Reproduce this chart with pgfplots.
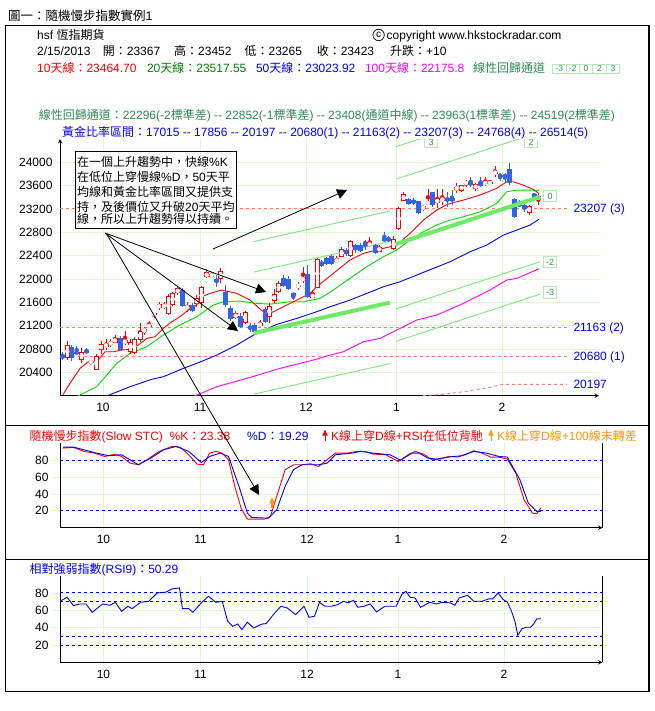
\documentclass[border=0pt]{standalone}
\usepackage{pgfplots}
\pgfplotsset{compat=1.18}
\usepackage{pgfplotstable}
\usetikzlibrary{arrows.meta}
\usepackage{fontspec}
\setmainfont{Liberation Sans}
\newfontfamily\cjk{Noto Sans CJK TC}

\definecolor{gridg}{RGB}{222,250,205}
\definecolor{candleblue}{RGB}{50,100,230}
\definecolor{maG}{RGB}{0,220,0}
\definecolor{chan}{RGB}{120,235,120}
\definecolor{thickg}{RGB}{110,235,100}
\definecolor{fibred}{RGB}{255,120,120}
\definecolor{seag}{RGB}{46,139,87}
\definecolor{darkg}{RGB}{0,128,0}
\definecolor{orng}{RGB}{255,150,0}
\definecolor{boxg}{RGB}{180,235,180}
\definecolor{magen}{RGB}{255,0,255}

\newcommand\F{\fontsize{12pt}{14pt}\selectfont}

% up (red, hollow) candles: x, body low, body high, low, high
\pgfplotstableread{
x bl bh lo hi
67.3 20645 20868 20611 20936
81.7 20611 20753 20559 20816
91 20568 20585 20551 20594
96 20439 20679 20439 20713
101 20782 20885 20713 20936
106 20839 20885 20782 20970
110.7 20885 20907 20833 20970
115 20907 20988 20902 21039
125 20897 20953 20868 21113
130 20753 20924 20713 20970
134.3 20726 20965 20713 21005
140 20953 21113 20924 21245
144.3 21096 21137 21039 21182
149 21182 21211 21159 21284
154 21381 21410 21334 21438
159 21497 21570 21468 21605
164 21514 21565 21485 21605
168.3 21393 21708 21382 21742
172.7 21553 21753 21536 21781
177.7 21753 21839 21725 21867
187.3 21480 21553 21438 21610
196.7 21570 21668 21524 21725
201.7 21582 21856 21497 21879
206.7 22028 22114 22011 22165
211.7 22039 22085 22016 22119
220.7 21994 22141 21925 22182
235.7 21334 21410 21313 21450
245 21250 21438 21222 21456
260 21199 21245 21177 21296
269.3 21353 21536 21239 21593
274 21627 21742 21582 21822
278.7 21781 21936 21759 21965
298.3 21867 21896 21810 21953
303 21970 22028 21936 22210
312.7 21668 21753 21668 21810
317.3 21850 22337 21839 22354
336.7 22296 22337 22268 22393
341.7 22381 22508 22371 22553
350.7 22393 22655 22381 22667
369.7 22558 22627 22542 22714
379.3 22467 22553 22462 22587
393.7 22513 22679 22496 22736
398.7 22851 23221 22839 23233
403.7 23341 23451 23336 23490
423.3 23194 23250 23165 23267
428 23284 23324 23267 23536
437.3 23296 23382 23210 23536
442.3 23341 23382 23267 23536
456.7 23524 23581 23468 23639
461.7 23512 23610 23495 23610
466 23627 23667 23571 23696
475.7 23536 23627 23512 23639
485.3 23627 23667 23593 23752
490 23627 23667 23627 23696
495 23810 23838 23752 23936
529 23136 23250 23096 23267
538.3 23367 23423 23265 23452
}\uptable

% down (blue, filled) candles
\pgfplotstableread{
x bl bh lo hi
62.7 20640 20696 20611 20753
71.7 20640 20839 20599 20868
76.7 20726 20753 20713 20851
86.7 20736 20782 20713 20816
120 20782 20993 20765 21022
182.7 21536 21810 21514 21839
192.3 21456 21553 21427 21587
216.7 21953 21994 21867 22068
225.7 21553 21781 21524 21896
230 21308 21497 21279 21536
240 21182 21365 21154 21410
250 21154 21182 21096 21239
254.5 21096 21211 21074 21245
265 21267 21479 21239 21524
283.3 21879 22021 21867 22068
288.7 21822 21994 21810 22051
293.3 21713 21753 21639 21753
307.7 21696 22079 21668 22239
321.7 22227 22296 22210 22325
326.7 22256 22354 22239 22381
331.7 22256 22393 22239 22410
346 22427 22496 22393 22530
355.3 22496 22575 22451 22604
360 22485 22587 22462 22621
365 22604 22627 22496 22667
375 22451 22587 22427 22604
384.3 22655 22696 22638 22810
388.7 22655 22696 22638 22736
408.7 23284 23365 23267 23387
413.5 23302 23353 23267 23387
418.3 23136 23336 23113 23336
432.7 23267 23495 23238 23495
447.3 23341 23382 23238 23495
452 23341 23382 23267 23524
470.7 23610 23667 23581 23752
480.7 23593 23667 23571 23742
500 23764 23781 23684 23810
505 23752 23781 23667 23810
509.3 23639 23879 23610 23993
514.3 23067 23365 23050 23382
519.3 23250 23296 23238 23353
524.3 23194 23267 23153 23296
534 23422 23451 23382 23478
}\downtable

\pgfplotsset{
  panel/.style={
    scale only axis,
    axis line style={-, black, line width=1pt},
    grid=major, major grid style={gridg, line width=0.8pt},
    tick style={gridg, line width=0.8pt}, major tick length=8pt, tick align=outside,
    ticklabel style={font=\F, black},
    scaled ticks=false,
    /pgf/number format/fixed,
    /pgf/number format/precision=0,
    /pgf/number format/assume math mode=true,
    /pgf/number format/set thousands separator={},
    clip mode=individual,
  },
  ebar/.style n args={2}{color=#1, only marks, mark=none, forget plot,
    error bars/.cd, y dir=both, y explicit, error mark=none,
    error bar style={color=#1, line width=#2}},
}

\begin{document}
\begin{tikzpicture}[x=1pt,y=1pt]
\path[use as bounding box] (0,0) rectangle (654,-711);
\fill[white] (0,0) rectangle (654,-711);

% ---------------- main price panel ----------------
\begin{axis}[panel,
  at={(60pt,-395.7pt)}, anchor=south west,
  width=539pt, height=256.7pt,
  xmin=60, xmax=599, ymin=20000, ymax=24400,
  axis x line=bottom, axis y line=left,
  xtick={103,200,306,396.5,502}, xticklabels={10,11,12,1,2},
  ytick={20400,20800,21200,21600,22000,22400,22800,23200,23600,24000},
]
% golden ratio levels
\addplot[fibred, line width=0.9pt, dash pattern=on 3pt off 3pt] coordinates {(60,23207) (567,23207)};
\addplot[fibred, line width=0.9pt, dash pattern=on 3pt off 3pt] coordinates {(60,21163) (567,21163)};
\addplot[fibred, line width=0.9pt, dash pattern=on 3pt off 3pt] coordinates {(60,20680) (567,20680)};
\addplot[fibred, line width=0.9pt, dash pattern=on 3pt off 3pt] coordinates {(423,20000) (443,20023) (463,20067) (490,20143) (502,20194) (567,20194)};
% regression channel A
\addplot[chan, line width=0.9pt] coordinates {(254,22643) (390,23165)};
\addplot[chan, line width=0.9pt] coordinates {(254,22120) (390,22642)};
\addplot[chan, line width=0.9pt] coordinates {(254,20028) (390,20550)};
% regression channel B
\addplot[chan, line width=0.9pt] coordinates {(396,24268) (540,25076)};
\addplot[chan, line width=0.9pt] coordinates {(396,23712) (540,24520)};
\addplot[chan, line width=0.9pt] coordinates {(396,21488) (540,22296)};
\addplot[chan, line width=0.9pt] coordinates {(396,20932) (540,21740)};
% moving averages
\addplot[magen, line width=0.9pt] coordinates {(193.3,19983) (216.7,20154) (246.7,20297) (280,20468) (313.3,20611) (330,20696) (343.3,20753) (363.3,20925) (380,20982) (396.7,21125) (416.7,21296) (436.7,21382) (463.3,21582) (490,21810) (506.7,21982) (516.7,22011) (539,22176)};
\addplot[blue, line width=0.9pt] coordinates {(105,19983) (130,20154) (151.7,20281) (163.3,20325) (183.3,20468) (196.7,20554) (216.7,20696) (236.7,20868) (255,21054) (276.7,21222) (296.7,21325) (316.7,21439) (330,21524) (350,21639) (383.3,21867) (400,21953) (416.7,22068) (433.3,22182) (450,22296) (470,22467) (486.7,22582) (503.3,22753) (516.7,22839) (530,22925) (539,23024)};
\addplot[maG, line width=0.9pt] coordinates {(76.7,19983) (96.7,20154) (116.7,20554) (130,20725) (146.7,20839) (163.3,21039) (180,21211) (196.7,21353) (213.3,21553) (223.3,21610) (240,21622) (256.7,21582) (270,21570) (290,21610) (303.3,21610) (320,21668) (333.3,21810) (350,22011) (366.7,22210) (383.3,22381) (396.7,22496) (410,22667) (423.3,22810) (436.7,22925) (450,23010) (463.3,23067) (480,23153) (496.7,23296) (506.7,23495) (516.7,23524) (530,23524) (539,23518)};
\addplot[red, line width=0.9pt] coordinates {(62.7,20011) (70,20211) (80,20468) (88.3,20581) (96.7,20581) (105,20753) (113.3,20753) (121.7,20782) (130,20794) (138.3,20868) (146.7,20982) (155,21010) (163.3,21154) (171.7,21267) (180,21353) (188.3,21468) (196.7,21553) (201.7,21696) (210,21754) (221.7,21810) (236.7,21754) (250,21639) (263.3,21439) (270,21411) (283.3,21524) (296.7,21639) (310,21754) (316.7,21867) (333.3,22096) (350,22325) (363.3,22439) (376.7,22496) (390,22553) (396.7,22582) (410,22782) (423.3,23010) (436.7,23182) (448,23284) (463.3,23353) (480,23439) (496.7,23554) (506.7,23667) (513.3,23667) (523.3,23610) (533.3,23536) (539,23465)};
% candles: wicks
\addplot[ebar={candleblue}{1pt}] table[x=x, y expr={(\thisrow{lo}+\thisrow{hi})/2}, y error expr={(\thisrow{hi}-\thisrow{lo})/2}] {\downtable};
\addplot[ebar={red}{1pt}] table[x=x, y expr={(\thisrow{lo}+\thisrow{hi})/2}, y error expr={(\thisrow{hi}-\thisrow{lo})/2}] {\uptable};
% candles: bodies
\addplot[ebar={candleblue}{5pt}] table[x=x, y expr={(\thisrow{bl}+\thisrow{bh})/2}, y error expr={max((\thisrow{bh}-\thisrow{bl})/2,9)}] {\downtable};
\addplot[ebar={red}{5pt}] table[x=x, y expr={(\thisrow{bl}+\thisrow{bh})/2}, y error expr={max((\thisrow{bh}-\thisrow{bl})/2,9)}] {\uptable};
\addplot[ebar={white}{3pt}] table[x=x, y expr={(\thisrow{bl}+\thisrow{bh})/2}, y error expr={max((\thisrow{bh}-\thisrow{bl})/2-17,0)}] {\uptable};
% channel centre lines
\addplot[thickg, line width=4pt] coordinates {(254,21074) (390,21596)};
\addplot[thickg, line width=4pt] coordinates {(396,22600) (540,23408)};
\end{axis}

% ---------------- slow stochastic panel ----------------
\begin{axis}[panel,
  at={(60pt,-527.7pt)}, anchor=south west,
  width=542.5pt, height=84.5pt,
  xmin=60, xmax=602.5, ymin=0, ymax=100,
  axis x line=bottom, axis y line=box, ytick pos=left,
  xtick={103.5,200.5,307,398,504}, xticklabels={10,11,12,1,2},
  ytick={20,40,60,80},
]
\addplot[blue, line width=0.9pt, dash pattern=on 3pt off 3pt] coordinates {(60,80) (602.5,80)};
\addplot[blue, line width=0.9pt, dash pattern=on 3pt off 3pt] coordinates {(60,20) (602.5,20)};
\addplot[red, line width=0.9pt] coordinates {(62.9,94.2) (73.4,95) (83.9,90.3) (94.3,88.3) (104.8,84.3) (115.3,87.1) (121.6,84.3) (130,76.4) (138.4,74.5) (146.8,80.4) (159.3,90.3) (171.9,96.2) (180.3,95.4) (188.7,86.3) (197.1,75.3) (203.4,74.5) (209.6,88.3) (215.9,90.3) (222.2,88.3) (228.5,80.4) (234.8,48.8) (241.1,23.2) (247.4,10.1) (255.8,10.1) (264.2,10.1) (270.4,13.3) (276.7,37) (285.1,68.6) (293.5,74.5) (301.9,74.5) (310.3,75.7) (318.7,72.5) (327,80.4) (335.4,88.3) (348,88.3) (356.4,90.3) (364.8,90.3) (373.2,87.1) (385.7,86.3) (398.3,78.4) (406.7,84.3) (415.1,90.3) (423.5,87.1) (431.9,80.4) (440.3,81.2) (448.6,84.3) (457,83.6) (465.4,86.3) (473.8,91.1) (482.2,88.3) (490.6,83.6) (499,83.6) (507.3,81.2) (515.7,64.6) (524.1,33) (532.5,17.2) (536.7,16.5) (540.9,23.4)};
\addplot[blue, line width=0.9pt] coordinates {(62.9,95.4) (73.4,95.4) (83.9,92.2) (96.4,88.3) (109,85.1) (121.6,86.3) (130,80.4) (138.4,74.5) (150.9,82.4) (163.5,92.2) (176.1,96.2) (188.7,90.3) (201.3,77.2) (209.6,84.3) (220.1,88.3) (228.5,84.3) (239,48.8) (247.4,17.2) (251.6,12.1) (268.3,11.3) (276.7,21.2) (285.1,48.8) (293.5,68.6) (301.9,74.5) (318.7,74.5) (327,76.4) (335.4,86.3) (352.2,88.3) (360.6,90.3) (373.2,88.3) (389.9,86.3) (400.4,80) (410.9,88.3) (419.3,88.3) (427.7,82.4) (436.1,81.2) (448.6,83.6) (461.2,85.1) (473.8,90.3) (486.4,88.3) (499,84.3) (507.3,83.6) (519.9,56.7) (528.3,29.1) (536.7,19.2) (540.9,19.3)};
\addplot[orng, line width=1.3pt, quiver={u=0, v=13, every arrow/.append style={-{Triangle[width=5pt,length=6pt]}}}] coordinates {(272,23)};
\end{axis}

% ---------------- RSI panel ----------------
\begin{axis}[panel,
  at={(60pt,-662.3pt)}, anchor=south west,
  width=542.5pt, height=86.7pt,
  xmin=60, xmax=602.5, ymin=0, ymax=100,
  axis x line=bottom, axis y line=box, ytick pos=left,
  xtick={103.5,200.5,307,398,504}, xticklabels={10,11,12,1,2},
  ytick={20,40,60,80},
]
\addplot[blue, line width=0.9pt, dash pattern=on 3pt off 3pt] coordinates {(60,80) (602.5,80)};
\addplot[blue, line width=0.9pt, dash pattern=on 3pt off 3pt] coordinates {(60,70) (602.5,70)};
\addplot[blue, line width=0.9pt, dash pattern=on 3pt off 3pt] coordinates {(60,30) (602.5,30)};
\addplot[blue, line width=0.9pt, dash pattern=on 3pt off 3pt] coordinates {(60,20) (602.5,20)};
\addplot[blue, line width=0.9pt] coordinates {(60,70.4) (67.1,75) (73.4,65.4) (79.7,67.3) (86,67.3) (92.2,57.7) (102.7,67.3) (109.9,65.8) (115.3,69.2) (121.6,58.8) (127.9,64.6) (132.1,61.9) (140.5,69.2) (148.8,70.4) (157.2,80) (165.6,80.8) (171.9,84.6) (179.5,85.8) (182.4,61.9) (188.7,61.9) (192.9,57.7) (201.3,68.5) (208.4,76.2) (215.9,69.2) (222.2,70.4) (227.7,47.3) (232.7,41.5) (237.7,44.2) (241.9,37.7) (247.4,46.2) (253.7,39.6) (262.1,44.2) (266.2,44.6) (272.5,53.8) (280.9,64.6) (287.2,62.7) (295.6,55) (304,64.6) (309,51.9) (314.5,53.1) (319.5,69.2) (325,64.6) (331.2,64.6) (337.5,66.5) (343.8,70.4) (348,68.5) (353.5,71.5) (357.7,63.5) (363.9,64.6) (370.2,67.3) (376.5,58.1) (384.9,64.6) (396.2,64.6) (401.7,78.1) (405.9,81.9) (410.1,75) (415.1,74.2) (420.5,63.5) (429.8,69.2) (436.1,67.3) (442.3,69.2) (450.7,68.5) (454.9,65.8) (459.1,74.2) (467.5,77.3) (473.8,70.4) (482.2,70.4) (488.5,73.1) (492.7,73.1) (498.1,80) (503.1,72.3) (507.3,69.6) (511.5,58.8) (514.9,47.3) (517.8,31.2) (522,38.8) (526.2,40.4) (530.4,40.4) (533.3,43.5) (536.7,50) (540.9,50.3)};
\end{axis}

% ---------------- frame and texts ----------------
\draw[line width=1.2pt] (5.5,-25.7) rectangle (649,-691.7);
\draw[line width=1pt] (5.5,-425.7) -- (649,-425.7);
\draw[line width=1pt] (5.5,-559.3) -- (649,-559.3);

\node[anchor=base west,inner sep=0] at (8,-20.5) {\fontsize{12.5pt}{14pt}\selectfont{\cjk 圖一：隨機慢步指數實例}1};
\node[anchor=base west,inner sep=0] at (37,-39.3) {\F hsf {\cjk 恆指期貨}};
\draw[line width=0.7pt] (378.6,-35) circle (5.7);
\node[inner sep=0] at (378.6,-35.3) {\fontsize{10pt}{12pt}\selectfont c};
\node[anchor=base west,inner sep=0] at (386.5,-39.3) {\F copyright www.hkstockradar.com};

\node[anchor=base west,inner sep=0] at (37,-56) {\F 2/15/2013};
\node[anchor=base west,inner sep=0] at (102.7,-56) {\F{\cjk 開：}23367};
\node[anchor=base west,inner sep=0] at (174,-56) {\F{\cjk 高：}23452};
\node[anchor=base west,inner sep=0] at (244.4,-56) {\F{\cjk 低：}23265};
\node[anchor=base west,inner sep=0] at (316.6,-56) {\F{\cjk 收：}23423};
\node[anchor=base west,inner sep=0] at (390,-56) {\F{\cjk 升跌：}+10};

\node[anchor=base west,inner sep=0,text=red] at (37,-72.6) {\F 10{\cjk 天線：}23464.70};
\node[anchor=base west,inner sep=0,text=darkg] at (146.8,-72.6) {\F 20{\cjk 天線：}23517.55};
\node[anchor=base west,inner sep=0,text=blue] at (255.8,-72.6) {\F 50{\cjk 天線：}23023.92};
\node[anchor=base west,inner sep=0,text=magen] at (364.8,-72.6) {\F 100{\cjk 天線：}22175.8};
\node[anchor=base west,inner sep=0,text=seag] at (473,-72.6) {\F{\cjk 線性回歸通道}};
\foreach \xx/\tt in {559.3/-3,572.7/-2,586.1/0,599.5/2,612.9/3}
  \node[draw=boxg, line width=0.8pt, minimum width=13.4pt, minimum height=9pt, inner sep=0, text=seag, font=\fontsize{8.5pt}{9pt}\selectfont] at (\xx,-68.8) {\tt};

\node[anchor=base west,inner sep=0,text=seag] at (38.6,-119.3) {\F{\cjk 線性回歸通道：}22296(-2{\cjk 標準差}) -{}- 22852(-1{\cjk 標準差}) -{}- 23408({\cjk 通道中線}) -{}- 23963(1{\cjk 標準差}) -{}- 24519(2{\cjk 標準差})};
\node[anchor=base west,inner sep=0,text=blue] at (62,-136.5) {\F{\cjk 黃金比率區間：}17015 -{}- 17856 -{}- 20197 -{}- 20680(1) -{}- 21163(2) -{}- 23207(3) -{}- 24768(4) -{}- 26514(5)};

% right-hand level labels
\node[anchor=base west,inner sep=0,text=blue] at (573.3,-212.8) {\F 23207 (3)};
\node[anchor=base west,inner sep=0,text=blue] at (573.3,-331.8) {\F 21163 (2)};
\node[anchor=base west,inner sep=0,text=blue] at (573.3,-360.2) {\F 20680 (1)};
\node[anchor=base west,inner sep=0,text=blue] at (573.3,-388.6) {\F 20197};

% channel labels
\begin{scope}
\clip (60,-139.5) rectangle (600,-396);
\foreach \xx/\yy/\tt in {550/196/0,550/262/-2,550/292.5/-3,531/142/2,431/142/3}
  \node[draw=boxg, line width=0.8pt, fill=white, minimum width=13.4pt, minimum height=11.7pt, inner sep=0, text=seag, font=\fontsize{9pt}{10pt}\selectfont] at (\xx,-\yy) {\tt};
\end{scope}

% stochastic title
\node[anchor=base west,inner sep=0,text=red] at (29.4,-440) {\F{\cjk 隨機慢步指數}(Slow STC)\ \ \%K{\cjk ：}23.38};
\node[anchor=base west,inner sep=0,text=blue] at (247,-440) {\F\%D{\cjk ：}19.29};
\draw[red, line width=1pt, -{Triangle[width=5pt,length=6pt]}] (325,-441) -- (325,-429.5);
\node[anchor=base west,inner sep=0,text=red] at (331,-440) {\F K{\cjk 線上穿}D{\cjk 線}+RSI{\cjk 在低位背馳}};
\draw[orng, line width=1pt, -{Triangle[width=5pt,length=6pt]}] (491,-441) -- (491,-429.5);
\node[anchor=base west,inner sep=0,text=orng] at (497,-440) {\F K{\cjk 線上穿}D{\cjk 線}+100{\cjk 線未轉差}};

% RSI title
\node[anchor=base west,inner sep=0,text=blue] at (29.4,-573.5) {\F{\cjk 相對強弱指數}(RSI9){\cjk ：}50.29};

% annotation box and arrows
\node[draw=black, line width=0.9pt, fill=white, anchor=north west, minimum width=161.5pt, minimum height=77pt, inner xsep=2pt, inner ysep=0pt, align=left, text width=157pt] at (74.5,-151)
 {\fontsize{12pt}{15pt}\selectfont\cjk 在一個上升趨勢中，快線{\rmfamily\%K}\\在低位上穿慢線{\rmfamily\%D}，{\rmfamily 50}天平\\均線和黃金比率區間又提供支\\持，及後價位又升破{\rmfamily 20}天平均\\線，所以上升趨勢得以持續。};
\draw[line width=0.8pt, -{Triangle[length=10pt,width=10pt]}] (105,-233) -- (238,-331);
\draw[line width=0.8pt, -{Triangle[length=10pt,width=10pt]}] (105,-233) -- (266,-292);
\draw[line width=0.8pt, -{Triangle[length=10pt,width=10pt]}] (106,-233) -- (259,-495);
\draw[line width=0.8pt, -{Triangle[length=10pt,width=10pt]}] (213,-249) -- (347,-190);
\end{tikzpicture}
\end{document}
